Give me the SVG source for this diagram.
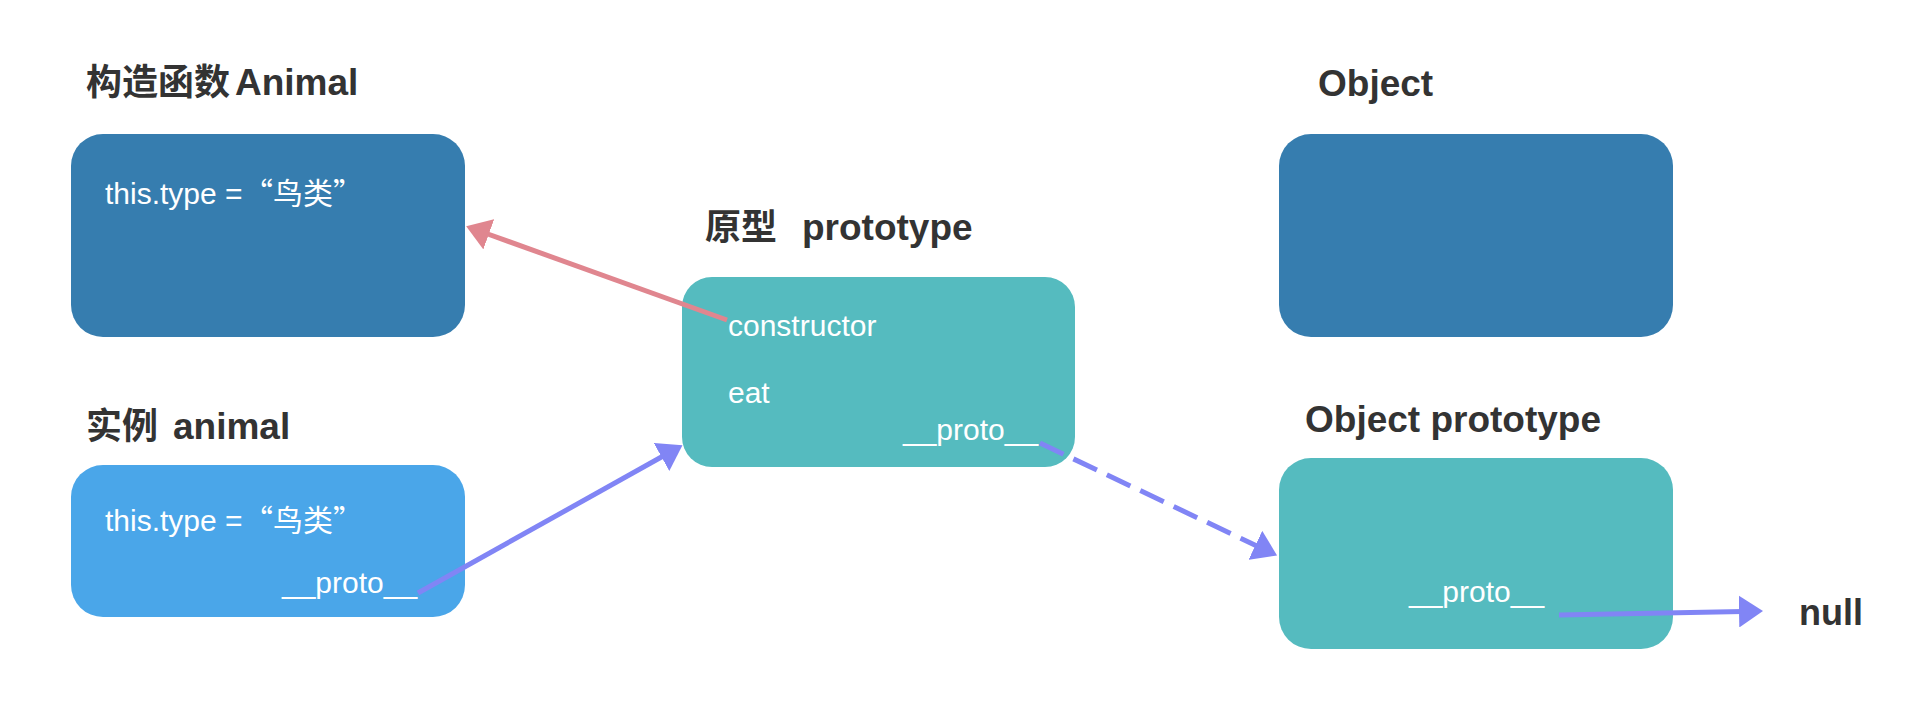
<svg xmlns="http://www.w3.org/2000/svg" width="1920" height="718" viewBox="0 0 1920 718">
<style>
.title{font-family:"Liberation Sans","Noto Sans CJK SC",sans-serif;font-weight:bold;font-size:36px;fill:#333333}
.lat{font-size:37px}
.inner{font-family:"Liberation Sans","Noto Sans CJK SC",sans-serif;font-size:30px;fill:#ffffff}
.cjk{font-family:"Noto Sans CJK SC",sans-serif}
.dark{fill:#367DAF}
.light{fill:#4AA6E9}
.teal{fill:#55BBBF}
.conn{fill:none;stroke-width:5}
</style>
<defs>
<marker id="headRed" markerUnits="userSpaceOnUse" viewBox="0 0 24 32" markerWidth="24" markerHeight="32" refX="4" refY="16" orient="auto">
<path d="M0,0 L24,16 L0,32 z" fill="#E0868F"/>
</marker>
<marker id="headBlue" markerUnits="userSpaceOnUse" viewBox="0 0 24 32" markerWidth="24" markerHeight="32" refX="4" refY="16" orient="auto">
<path d="M0,0 L24,16 L0,32 z" fill="#8185F5"/>
</marker>
</defs>
<rect width="1920" height="718" fill="#ffffff"/>
<g id="animal-constructor">
<text class="title" y="95"><tspan x="86">构造函数</tspan><tspan class="lat" x="235">Animal</tspan></text>
<rect class="dark" x="71" y="134" width="394" height="203" rx="32" ry="32"/>
<text class="inner" x="105" y="204">this.type = <tspan class="cjk" dx="-8">“鸟类”</tspan></text>
</g>
<g id="animal-instance">
<text class="title" y="439"><tspan x="86">实例</tspan><tspan class="lat" x="173">animal</tspan></text>
<rect class="light" x="71" y="465" width="394" height="152" rx="32" ry="32"/>
<text class="inner" x="105" y="531">this.type = <tspan class="cjk" dx="-8">“鸟类”</tspan></text>
<text class="inner" x="282" y="593">__proto__</text>
</g>
<g id="prototype">
<text class="title" y="240"><tspan x="705">原型</tspan><tspan class="lat" x="802">prototype</tspan></text>
<rect class="teal" x="682" y="277" width="393" height="190" rx="30" ry="30"/>
<text class="inner" x="728" y="336">constructor</text>
<text class="inner" x="728" y="403">eat</text>
<text class="inner" x="903" y="440">__proto__</text>
</g>
<g id="object">
<text class="title lat" x="1318" y="96">Object</text>
<rect class="dark" x="1279" y="134" width="394" height="203" rx="32" ry="32"/>
</g>
<g id="object-prototype">
<text class="title lat" x="1305" y="432">Object prototype</text>
<rect class="teal" x="1279" y="458" width="394" height="191" rx="32" ry="32"/>
<text class="inner" x="1409" y="602">__proto__</text>
</g>
<g id="null-node">
<text class="title" x="1799" y="625">null</text>
</g>
<g id="connectors">
<line class="conn" x1="727" y1="320" x2="485" y2="233" stroke="#E0868F" marker-end="url(#headRed)"/>
<line class="conn" x1="418" y1="593" x2="665" y2="455" stroke="#8185F5" marker-end="url(#headBlue)"/>
<line class="conn" x1="1040" y1="443" x2="1259" y2="547" stroke="#8185F5" stroke-dasharray="26 11" marker-end="url(#headBlue)"/>
<line class="conn" x1="1559" y1="615" x2="1743" y2="611.4" stroke="#8185F5" marker-end="url(#headBlue)"/>
</g>
</svg>
